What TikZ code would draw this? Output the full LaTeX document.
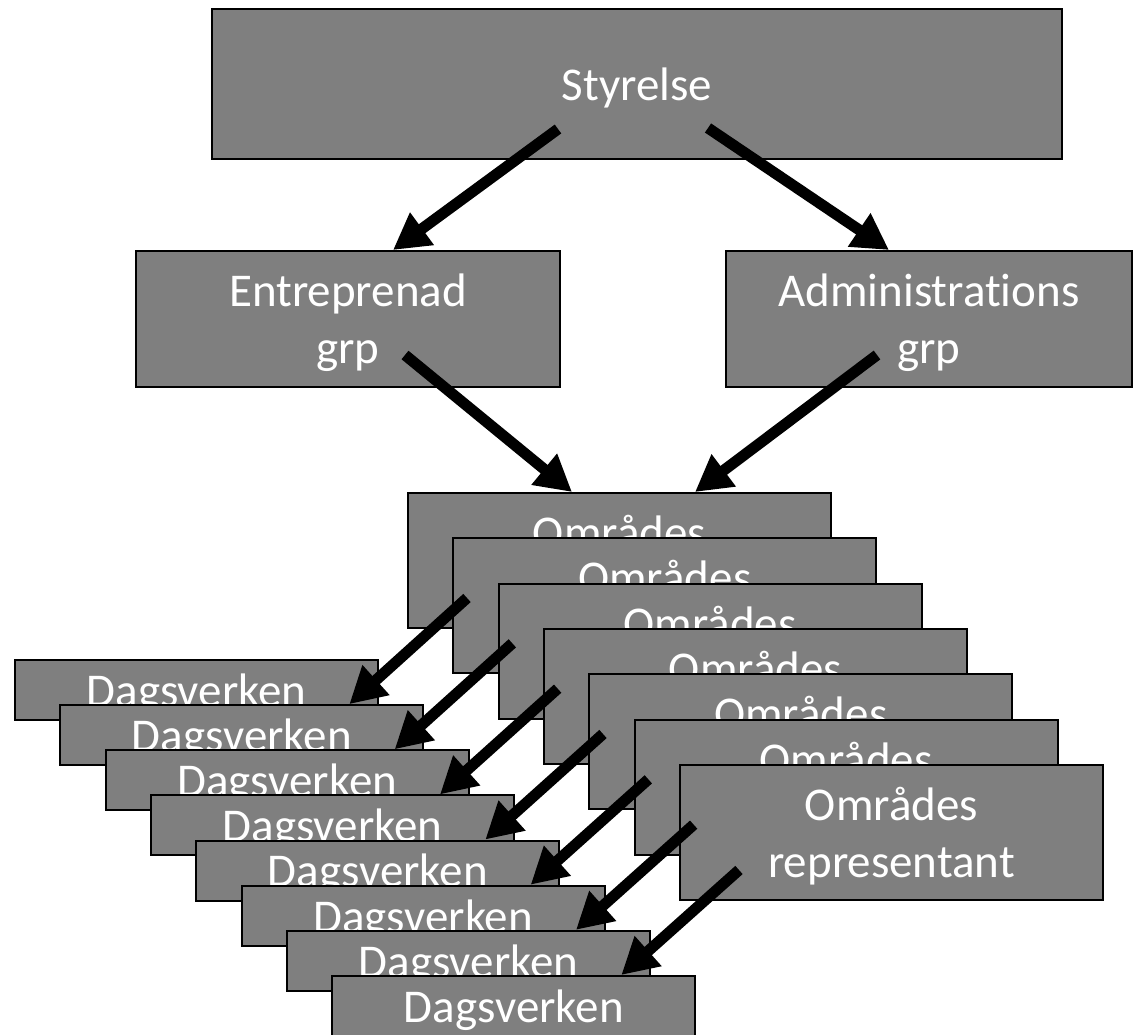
\documentclass[tikz,border=0pt]{standalone}
\usepackage{fontspec}
\setmainfont{Carlito}[Ligatures=NoCommon]
\usetikzlibrary{arrows.meta}
\definecolor{boxgray}{RGB}{127,127,127}
\begin{document}
\begin{tikzpicture}[x=1pt,y=-1pt,
  box/.style={draw=black, line width=2pt, fill=boxgray, text=white,
    font=\fontsize{47}{57}\selectfont, align=center, anchor=north west,
    inner sep=0pt, text depth=0pt},
  obox/.style={box, minimum width=423pt, minimum height=135pt},
  dbox/.style={box, minimum width=363pt, minimum height=60pt},
  flow/.style={line width=11pt, -{Triangle[length=36pt,width=38pt]}}
]
\useasboundingbox (0,0) rectangle (1134,1035);
\node[box, minimum width=850pt, minimum height=150pt] (sty) at (211,8) {Styrelse};
\node[box, minimum width=424pt, minimum height=136pt] (ent) at (135,250) {Entreprenad\\grp};
\node[box, minimum width=406pt, minimum height=136pt] (adm) at (725,250) {Administrations\\grp};
\foreach \i in {1,...,6}{
  \node[obox] (o\i) at ({407+45.33*(\i-1)},{492+45.33*(\i-1)}) {Områdes\\\phantom{representant}};
}
\node[obox] (o7) at ({407+45.33*6},{492+45.33*6}) {Områdes\\representant};
\foreach \i in {1,...,8}{
  \node[dbox] (d\i) at ({14+45.33*(\i-1)},{659+45.14*(\i-1)}) {Dagsverken};
}
\draw[flow] ([shift={(347,121)}]sty.north west) -- ([shift={(258,0)}]ent.north west);
\draw[flow] ([shift={(497,120)}]sty.north west) -- ([shift={(164,0)}]adm.north west);
\draw[flow] ([shift={(270,105)}]ent.north west) -- ([shift={(165,0)}]o1.north west);
\draw[flow] ([shift={(152,105)}]adm.north west) -- ([shift={(288,0)}]o1.north west);
\foreach \j [evaluate=\j as \k using int(\j+1)] in {1,...,7}{
  \draw[flow] ([shift={(60,106)}]o\j.north west) -- ([shift={(290,0)}]d\k.north west);
}
\end{tikzpicture}
\end{document}
